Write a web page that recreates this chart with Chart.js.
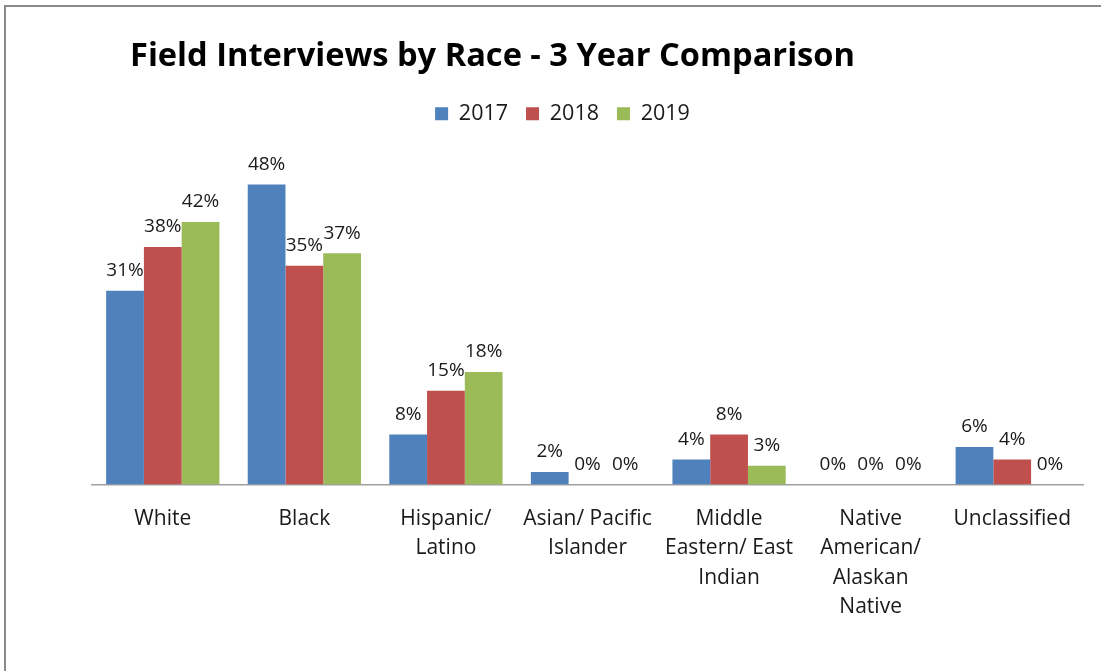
<!DOCTYPE html>
<html>
<head>
<meta charset="utf-8">
<script src="https://cdn.jsdelivr.net/npm/chart.js@4.4.1/dist/chart.umd.min.js"></script>
<style>
  html, body { margin: 0; padding: 0; background: #fff; }
  body { width: 1101px; height: 671px; overflow: hidden; position: relative; }
  #frame { position: absolute; left: 4px; top: 5px; width: 1120px; height: 700px;
           border-left: 2px solid #8a8a8a; border-top: 2px solid #8a8a8a; }
  #wrap { position: absolute; left: 0; top: 0; width: 1101px; height: 671px; }
</style>
</head>
<body>
<div id="frame"></div>
<div id="wrap"><canvas id="c" width="1101" height="671"></canvas></div>
<script>
const TITLE = 'Field Interviews by Race - 3 Year Comparison';
const categories = [
  'White',
  'Black',
  ['Hispanic/', 'Latino'],
  ['Asian/ Pacific', 'Islander'],
  ['Middle', 'Eastern/ East', 'Indian'],
  ['Native', 'American/', 'Alaskan', 'Native'],
  'Unclassified'
];
const seriesNames = ['2017', '2018', '2019'];
const values2017 = [31, 48, 8, 2, 4, 0, 6];
const values2018 = [38, 35, 15, 0, 8, 0, 4];
const values2019 = [42, 37, 18, 0, 3, 0, 0];
const seriesColors = ['#4F81BD', '#C0504D', '#9BBB59'];

const FONT = "'Open Sans', 'Liberation Sans', sans-serif";

const titlePlugin = {
  id: 'customTitle',
  afterDraw(chart) {
    const ctx = chart.ctx;
    ctx.save();
    ctx.fillStyle = '#000';
    ctx.textBaseline = 'middle';
    ctx.textAlign = 'left';
    let size = 30;
    ctx.font = 'bold ' + size + 'px ' + FONT;
    const w = ctx.measureText(TITLE).width;
    size = size * 725 / w;
    ctx.font = 'bold ' + size.toFixed(2) + 'px ' + FONT;
    ctx.fillText(TITLE, 130, 57);
    ctx.restore();
  }
};

const labelPlugin = {
  id: 'barLabels',
  afterDatasetsDraw(chart) {
    const ctx = chart.ctx;
    ctx.save();
    ctx.fillStyle = '#1a1a1a';
    ctx.font = '19px ' + FONT;
    ctx.textAlign = 'center';
    ctx.textBaseline = 'middle';
    chart.data.datasets.forEach((ds, di) => {
      const meta = chart.getDatasetMeta(di);
      meta.data.forEach((bar, i) => {
        ctx.fillText(ds.data[i] + '%', bar.x, bar.y - 20);
      });
    });
    ctx.restore();
  }
};

new Chart(document.getElementById('c'), {
  type: 'bar',
  data: {
    labels: categories,
    datasets: seriesNames.map((n, k) => ({
      label: n,
      data: [values2017, values2018, values2019][k],
      backgroundColor: seriesColors[k],
      borderWidth: 0,
      categoryPercentage: 0.8,
      barPercentage: 1.0
    }))
  },
  options: {
    responsive: false,
    animation: false,
    devicePixelRatio: 1,
    layout: { padding: { left: 42, right: 18, top: 85, bottom: 29 } },
    plugins: {
      title: { display: false },
      tooltip: { enabled: false },
      legend: {
        position: 'top',
        align: 'center',
        labels: {
          boxWidth: 13, boxHeight: 13,
          padding: 18,
          color: '#1a1a1a',
          font: { size: 21.5, family: FONT }
        }
      }
    },
    scales: {
      x: {
        grid: { display: false, drawTicks: false },
        border: { display: true, color: '#a0a0a0', width: 1.5 },
        ticks: {
          color: '#1a1a1a',
          padding: 20,
          maxRotation: 0, autoSkip: false,
          font: { size: 21, family: FONT, lineHeight: 1.4 }
        }
      },
      y: {
        min: 0, max: 56,
        grid: { display: false, drawTicks: false },
        border: { display: false },
        ticks: { display: false },
        afterFit(scale) { scale.width = 50; }
      }
    }
  },
  plugins: [titlePlugin, labelPlugin]
});
</script>
</body>
</html>
